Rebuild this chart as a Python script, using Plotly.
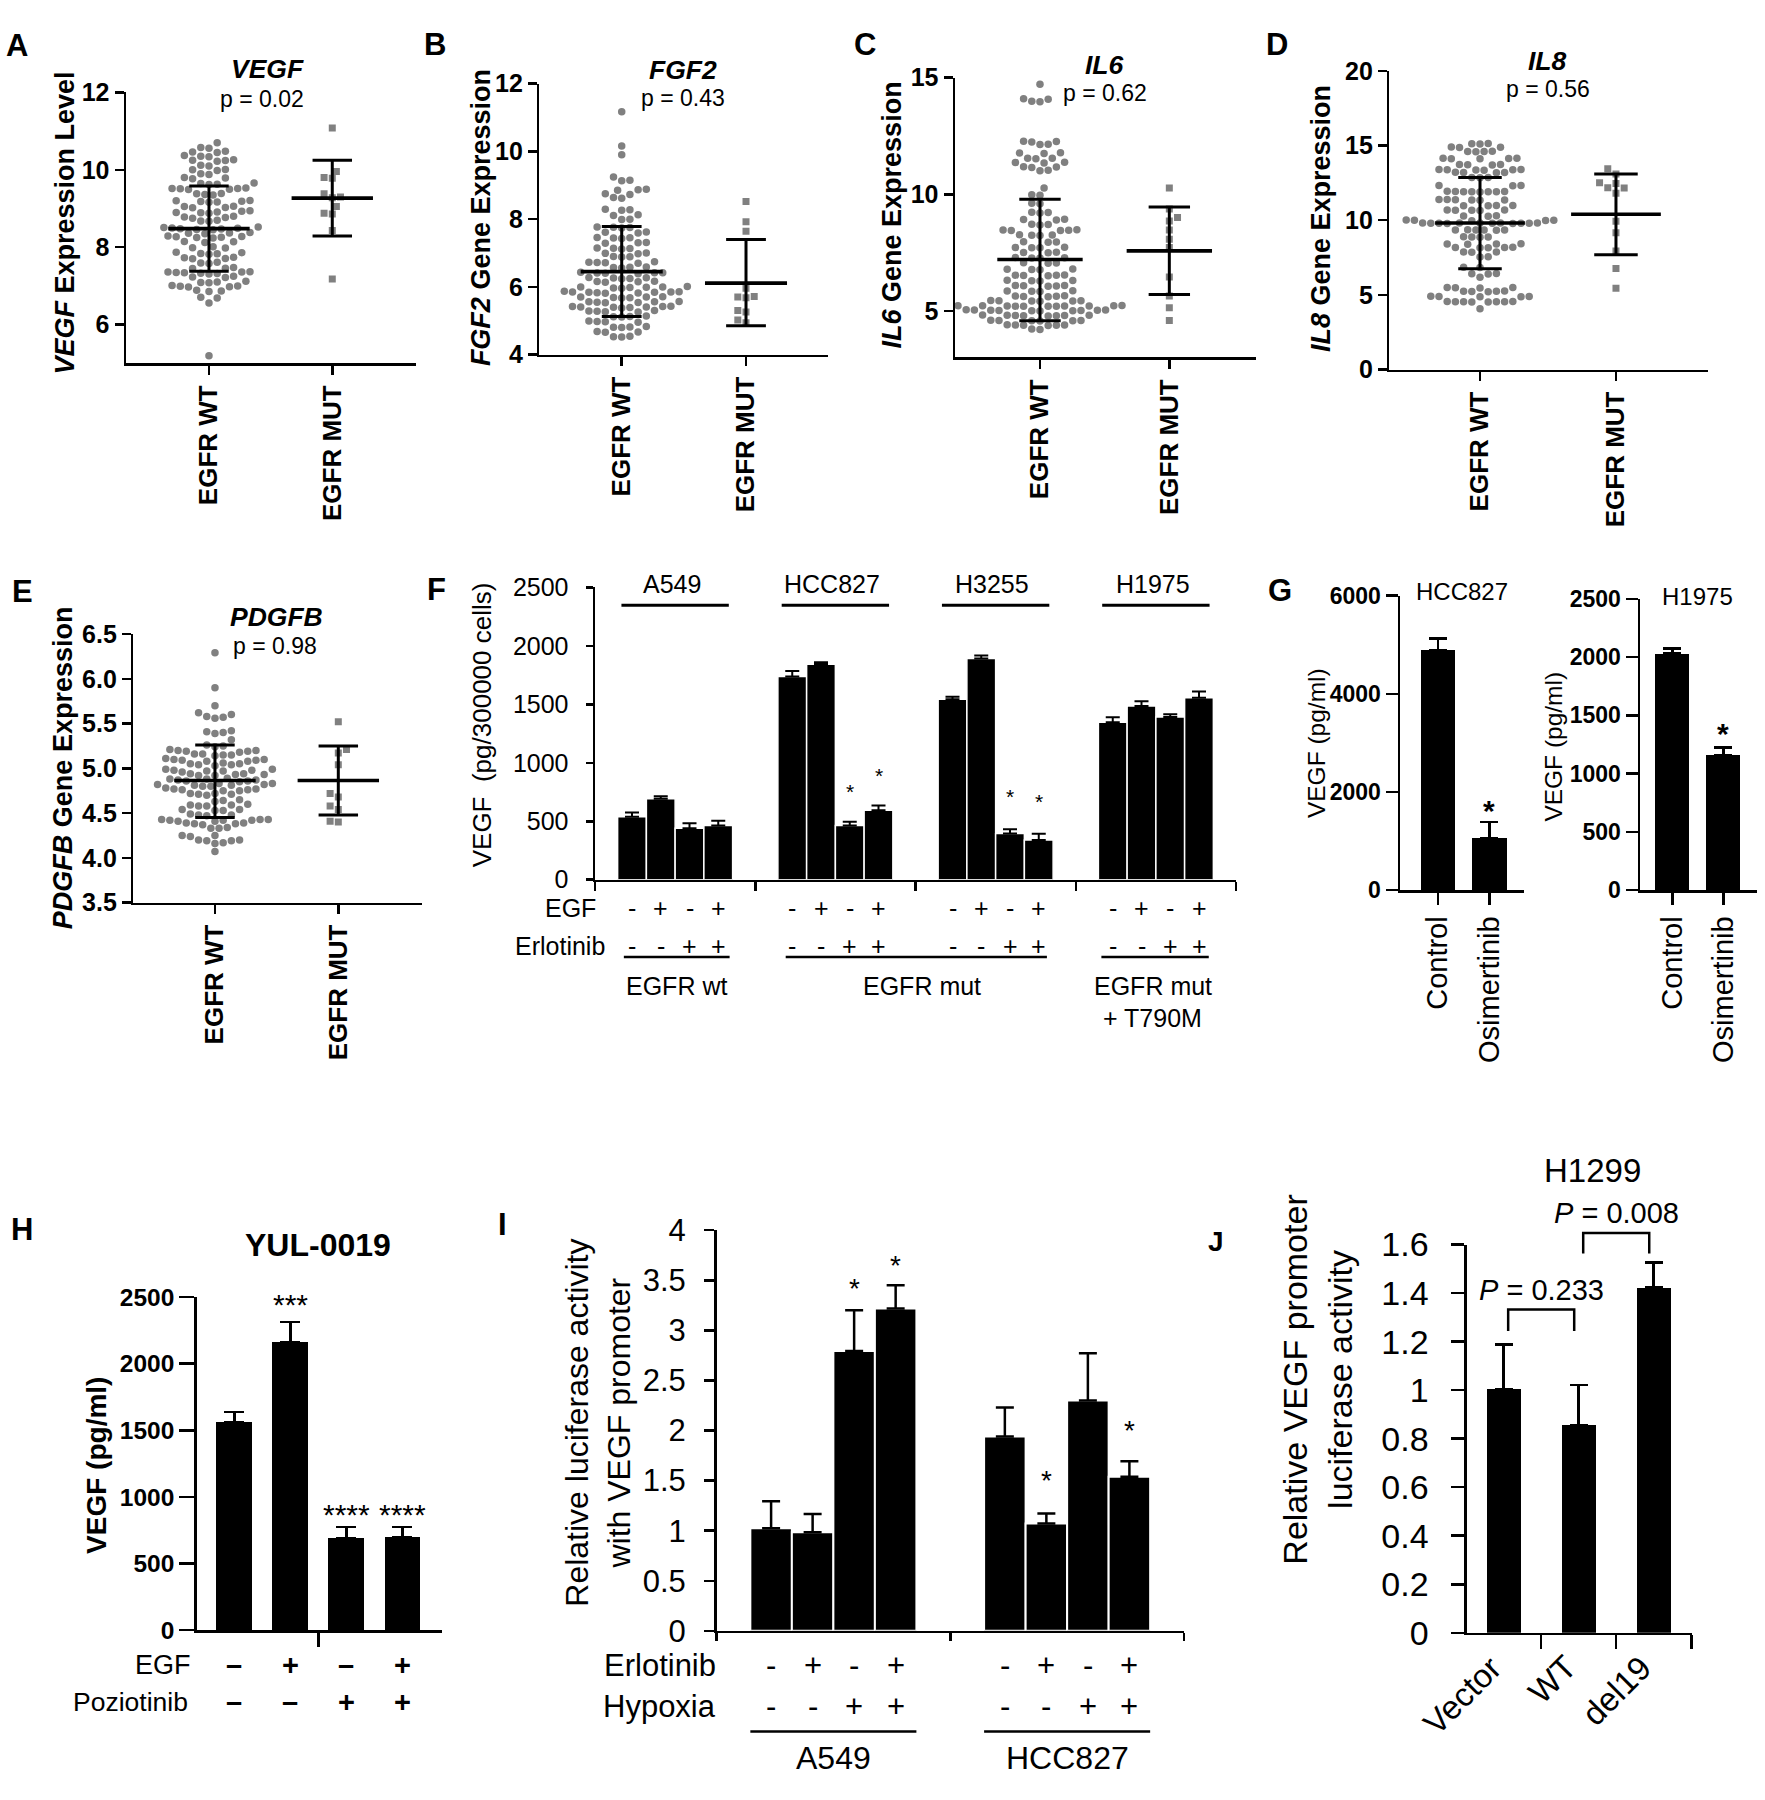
import plotly.graph_objects as go

W, H = 1765, 1800
FONT = "Liberation Sans, Arial, Helvetica, sans-serif"
GRAY = "#808080"
LW = 2.5

# ===================== DATA =====================
DOT_CATS = ["EGFR WT", "EGFR MUT"]

VEGF_WT = [10.70, 10.58, 10.56, 10.48, 10.46, 10.45, 10.37, 10.35, 10.34, 10.26, 10.25, 10.24, 10.22,
           10.12, 10.10, 10.01, 10.00, 9.98, 9.90, 9.88, 9.80, 9.79, 9.77, 9.66, 9.65, 9.63, 9.62,
           9.53, 9.52, 9.52, 9.51, 9.50, 9.49, 9.39, 9.38, 9.36, 9.35, 9.21, 9.20, 9.19, 9.18, 9.17, 9.16,
           9.06, 9.05, 9.03, 9.02, 8.94, 8.93, 8.91, 8.90, 8.89, 8.88, 8.80, 8.78, 8.77, 8.75, 8.70, 8.68, 8.67,
           8.52, 8.51, 8.50, 8.49, 8.48, 8.47, 8.46, 8.45, 8.38, 8.37, 8.36, 8.35, 8.29, 8.28, 8.27, 8.26, 8.25, 8.24,
           8.15, 8.14, 8.12, 8.01, 7.99, 7.98, 7.87, 7.86, 7.84, 7.83, 7.82, 7.74, 7.73, 7.71, 7.70,
           7.61, 7.59, 7.58, 7.48, 7.46, 7.45, 7.37, 7.36, 7.36, 7.35, 7.34, 7.33, 7.32, 7.31, 7.25, 7.23, 7.22,
           7.12, 7.10, 7.09, 7.08, 7.01, 7.00, 6.99, 6.98, 6.97, 6.89, 6.87, 6.86, 6.71, 6.69, 6.56, 5.20]
VEGF_MUT = [11.08, 9.96, 9.80, 9.78, 9.38, 9.30, 9.28, 9.05, 8.88, 8.86, 8.43, 7.18]
VEGF_MEAN = [8.48, 9.27]
VEGF_LO = [7.38, 8.29]
VEGF_HI = [9.58, 10.25]

FGF2_WT = [11.17, 10.16, 9.90, 9.24, 9.15, 9.13, 8.88, 8.87, 8.85, 8.75, 8.73, 8.64, 8.62,
           8.29, 8.28, 8.26, 8.13, 8.11, 8.00, 7.99, 7.77, 7.76, 7.75, 7.74, 7.62, 7.61, 7.59,
           7.46, 7.45, 7.44, 7.43, 7.31, 7.30, 7.29, 7.15, 7.14, 7.13, 7.12, 7.00, 6.99, 6.98, 6.90, 6.89, 6.88,
           6.74, 6.73, 6.72, 6.71, 6.70, 6.59, 6.58, 6.57, 6.56, 6.43, 6.42, 6.42, 6.41, 6.40, 6.39,
           6.28, 6.27, 6.26, 6.25, 6.24, 6.17, 6.16, 6.15, 6.14, 6.01, 6.00, 6.00, 5.99, 5.98, 5.97, 5.96,
           5.87, 5.86, 5.85, 5.85, 5.84, 5.84, 5.83, 5.82, 5.81,
           5.71, 5.70, 5.70, 5.69, 5.68, 5.67, 5.57, 5.56, 5.56, 5.55, 5.54, 5.53,
           5.43, 5.42, 5.42, 5.41, 5.41, 5.40, 5.39, 5.38, 5.30, 5.29, 5.28, 5.27, 5.26,
           5.14, 5.13, 5.12, 5.11, 4.99, 4.98, 4.97, 4.96, 4.83, 4.82, 4.81, 4.80, 4.68, 4.67, 4.66,
           4.54, 4.53, 4.52]
FGF2_MUT = [8.52, 7.92, 7.64, 5.96, 5.72, 5.70, 5.68, 5.30, 5.26, 5.02, 4.94]
FGF2_MEAN = [6.45, 6.11]
FGF2_LO = [5.13, 4.85]
FGF2_HI = [7.78, 7.40]

IL6_WT = [14.72, 14.10, 14.08, 13.99, 13.97, 12.27, 12.26, 12.24, 12.15, 12.13,
          11.78, 11.77, 11.75, 11.55, 11.54, 11.52, 11.37, 11.36, 11.34, 11.18, 11.17, 11.15, 11.03, 11.01,
          10.27, 9.98, 9.96, 9.61, 9.59, 9.23, 9.22, 9.20, 8.93, 8.92, 8.90, 8.71, 8.70, 8.68,
          8.48, 8.47, 8.46, 8.45, 8.44, 8.26, 8.25, 8.24, 8.23, 7.96, 7.95, 7.94, 7.73, 7.72, 7.71, 7.70,
          7.51, 7.50, 7.49, 7.29, 7.28, 7.27, 7.26, 7.06, 7.05, 7.04, 6.79, 6.78, 6.77, 6.76,
          6.54, 6.53, 6.52, 6.51, 6.50, 6.31, 6.30, 6.29, 6.28, 6.09, 6.08, 6.07, 6.06, 6.05,
          5.86, 5.85, 5.84, 5.83, 5.64, 5.63, 5.62, 5.61, 5.60, 5.44, 5.43, 5.43, 5.42, 5.42, 5.41,
          5.23, 5.23, 5.22, 5.22, 5.22, 5.21, 5.21, 5.21, 5.20, 5.20, 5.19, 5.19,
          5.04, 5.03, 5.03, 5.02, 5.02, 5.01, 5.01, 5.00, 5.00, 4.99,
          4.82, 4.81, 4.81, 4.80, 4.80, 4.79, 4.79, 4.78, 4.59, 4.58, 4.58, 4.57, 4.57, 4.56,
          4.40, 4.39, 4.39, 4.38, 4.38, 4.37, 4.22, 4.20]
IL6_MUT = [10.27, 9.37, 9.00, 8.85, 8.47, 8.07, 7.72, 6.45, 5.63, 5.13, 4.58]
IL6_MEAN = [7.20, 7.57]
IL6_LO = [4.57, 5.70]
IL6_HI = [9.79, 9.45]

IL8_WT = [15.13, 15.12, 15.10, 14.90, 14.89, 14.87, 14.61, 14.60, 14.59, 14.58,
          14.15, 14.14, 14.13, 14.12, 14.11, 13.73, 13.72, 13.71, 13.70,
          13.40, 13.39, 13.38, 13.37, 13.36, 13.35, 13.21, 13.20, 13.19, 13.18,
          12.86, 12.85, 12.84, 12.33, 12.32, 12.30,
          11.93, 11.92, 11.92, 11.91, 11.91, 11.90, 11.90, 11.89, 11.39, 11.38, 11.37, 11.36, 11.35, 11.34,
          10.99, 10.98, 10.97, 10.96, 10.69, 10.68, 10.67, 10.66, 10.65, 10.29, 10.28, 10.27,
          10.01, 10.00, 9.99, 9.98, 9.97,
          9.82, 9.82, 9.81, 9.81, 9.81, 9.80, 9.80, 9.80, 9.79, 9.79, 9.78, 9.78,
          9.36, 9.35, 9.35, 9.34, 9.34, 9.33, 8.89, 8.88, 8.87, 8.86, 8.42, 8.41, 8.40, 8.39,
          8.19, 8.18, 8.17, 8.16, 8.15, 7.88, 7.87, 7.86, 7.55, 7.53, 6.85, 6.83, 6.43, 6.42, 6.40, 6.19,
          5.50, 5.49, 5.48, 5.47, 5.26, 5.25, 5.24, 5.23, 5.22, 4.91, 4.90, 4.89, 4.88, 4.87,
          4.56, 4.56, 4.55, 4.55, 4.54, 4.54, 4.53, 4.53, 4.08]
IL8_MUT = [13.44, 13.09, 12.50, 12.46, 12.18, 12.15, 11.80, 9.93, 9.16, 7.94, 6.77, 5.44]
IL8_MEAN = [9.81, 10.40]
IL8_LO = [6.75, 7.68]
IL8_HI = [12.85, 13.09]

PDGFB_WT = [6.29, 5.90, 5.70, 5.62, 5.60, 5.58, 5.57, 5.56, 5.42, 5.41, 5.40, 5.39, 5.32,
            5.26, 5.25, 5.24, 5.21, 5.20, 5.20, 5.19, 5.19, 5.18, 5.16, 5.16, 5.15, 5.15, 5.14,
            5.11, 5.10, 5.10, 5.09, 5.09, 5.08, 5.08, 5.06, 5.05, 5.05, 5.04, 5.04, 5.03,
            4.99, 4.99, 4.98, 4.98, 4.97, 4.97, 4.96, 4.94, 4.94, 4.93, 4.93, 4.92, 4.92,
            4.89, 4.88, 4.88, 4.87, 4.87, 4.86, 4.86, 4.85, 4.83, 4.83, 4.82, 4.82, 4.81, 4.81, 4.80, 4.80,
            4.78, 4.77, 4.77, 4.76, 4.76, 4.75, 4.75, 4.72, 4.72, 4.71, 4.71, 4.70, 4.65, 4.64, 4.63,
            4.60, 4.59, 4.59, 4.58, 4.58, 4.54, 4.54, 4.53, 4.53, 4.49, 4.48, 4.48, 4.47,
            4.43, 4.43, 4.43, 4.42, 4.42, 4.42, 4.41, 4.41, 4.39, 4.39, 4.38, 4.38, 4.37,
            4.34, 4.33, 4.33, 4.25, 4.25, 4.24, 4.20, 4.20, 4.19, 4.19, 4.17, 4.16, 4.07]
PDGFB_MUT = [5.52, 5.21, 5.17, 5.04, 4.72, 4.68, 4.58, 4.54, 4.41, 4.40]
PDGFB_MEAN = [4.865, 4.865]
PDGFB_LO = [4.45, 4.48]
PDGFB_HI = [5.26, 5.25]

# Panel F
F_CELLS = ["A549", "HCC827", "H3255", "H1975"]
F_VALS = [[538, 692, 441, 463], [1738, 1842, 463, 594], [1543, 1892, 396, 340], [1348, 1487, 1392, 1557]]
F_ERR = [[575, 714, 483, 505], [1786, 1861, 497, 636], [1565, 1917, 432, 393], [1390, 1526, 1415, 1610]]
F_STAR = [[None, None, None, None], [None, None, 796, 935], [None, None, 757, 710], [None, None, None, None]]
F_EGF = ["-", "+", "-", "+"]
F_ERL = ["-", "-", "+", "+"]

# Panel G
G_CATS = ["Control", "Osimertinib"]
G_HCC_VALS = [4889, 1064]
G_HCC_ERR = [5122, 1384]
G_HCC_STAR = [None, 1760]
G_H1975_VALS = [2030, 1156]
G_H1975_ERR = [2072, 1226]
G_H1975_STAR = [None, 1400]

# Panel H
H_VALS = [1562, 2163, 691, 697]
H_ERR = [1638, 2312, 775, 775]
H_STAR_TXT = ["", "***", "****", "****"]
H_STAR_Y = [None, 2497, 921, 921]
H_EGF = ["\u2013", "+", "\u2013", "+"]
H_POZ = ["\u2013", "\u2013", "+", "+"]

# Panel I
I_CELLS = ["A549", "HCC827"]
I_VALS = [[1.024, 0.985, 2.794, 3.219], [1.940, 1.071, 2.300, 1.538]]
I_ERR = [[1.295, 1.167, 3.200, 3.451], [2.230, 1.171, 2.771, 1.693]]
I_STAR = [[None, None, 3.486, 3.710], [None, 1.565, None, 2.068]]
I_ERL = ["-", "+", "-", "+"]
I_HYP = ["-", "-", "+", "+"]

# Panel J
J_CATS = ["Vector", "WT", "del19"]
J_VALS = [1.005, 0.857, 1.423]
J_ERR = [1.188, 1.021, 1.527]
J_PTXT = ["<i>P</i> = 0.233", "<i>P</i> = 0.008"]
J_PPAIR = [(0, 1), (1, 2)]
J_PTOP = [1.332, 1.648]
J_PLEG = [1.244, 1.563]
J_PLABEL = [1.412, 1.731]

# ===================== HELPERS =====================
layout = dict(width=W, height=H, margin=dict(l=0, r=0, t=0, b=0),
              paper_bgcolor="white", plot_bgcolor="rgba(0,0,0,0)", showlegend=False,
              font=dict(family=FONT, color="black"))
annotations = []
shapes = []
traces = []
axis_count = [0]


def fx(px):
    return px / W


def fy(py):
    return 1 - py / H


def make_axes(box, xr, yr, xkw=None, ykw=None, hidden=False):
    axis_count[0] += 1
    n = "" if axis_count[0] == 1 else str(axis_count[0])
    x0, x1, yt, yb = box
    if hidden:
        base = dict(visible=False, showgrid=False, zeroline=False, fixedrange=True)
    else:
        base = dict(showline=True, linecolor="black", linewidth=LW, ticks="outside",
                    tickcolor="black", tickwidth=LW, showgrid=False, zeroline=False, fixedrange=True)
    xa = {**base, "domain": [fx(x0), fx(x1)], "range": list(xr), "anchor": "y" + n}
    ya = {**base, "domain": [fy(yb), fy(yt)], "range": list(yr), "anchor": "x" + n}
    xa.update(xkw or {})
    ya.update(ykw or {})
    layout["xaxis" + n] = xa
    layout["yaxis" + n] = ya
    return "x" + n, "y" + n, (x1 - x0) / (xr[1] - xr[0]), (yb - yt) / (yr[1] - yr[0])


def T(x, y, s, size, xref="paper", yref="paper", xa="center", ya="middle", angle=0, yshift=0, xshift=0):
    if xref == "paper":
        x = fx(x)
    if yref == "paper":
        y = fy(y)
    annotations.append(dict(x=x, y=y, xref=xref, yref=yref, text=s, showarrow=False,
                            font=dict(family=FONT, size=size, color="black"),
                            xanchor=xa, yanchor=ya, textangle=angle, yshift=yshift, xshift=xshift))


def hline(xref, xa, xb, ypx, width=2.5):
    shapes.append(dict(type="line", xref=xref, yref="paper", x0=xa, x1=xb, y0=fy(ypx), y1=fy(ypx),
                       line=dict(color="black", width=width)))


def star(xref, yref, x, y, size, bold=False, txt="*"):
    s = "<b>%s</b>" % txt if bold else txt
    T(x, y, s, size, xref=xref, yref=yref, yshift=-0.23 * size)


def swarm(values, center, ppx, ppy, d):
    placed = []
    xs = [0.0] * len(values)
    order = sorted(range(len(values)), key=lambda i: values[i])
    step = d * 0.5
    for cnt, i in enumerate(order):
        ypx = values[i] * ppy
        k = 0
        while True:
            if k == 0:
                cands = [0.0]
            else:
                cands = [k * step, -k * step] if cnt % 2 == 0 else [-k * step, k * step]
            hit = None
            for c in cands:
                ok = True
                for (px, py) in placed:
                    if abs(py - ypx) < d and (c - px) ** 2 + (ypx - py) ** 2 < d * d:
                        ok = False
                        break
                if ok:
                    hit = c
                    break
            if hit is not None:
                placed.append((hit, ypx))
                xs[i] = center + hit / ppx
                break
            k += 1
    return xs


def err_bar(vals, tops, half, thick=2.5):
    return dict(type="data", symmetric=False, array=[t - v for t, v in zip(tops, vals)],
                arrayminus=[0] * len(vals), color="black", thickness=thick, width=half)


# ===================== DOT PLOTS (A-E) =====================
dot_panels = [
    dict(gene="VEGF", suffix=" Expression Level", p="p = 0.02", wt=VEGF_WT, mut=VEGF_MUT,
         mean=VEGF_MEAN, lo=VEGF_LO, hi=VEGF_HI, box=(126, 416, 75, 351.8), xr=(-0.673, 1.679), yr=(5, 12),
         tickvals=[6, 8, 10, 12], fmt="", title_xy=(267, 51.5), p_xy=(262, 81.5), ytitle_xy=(65, 209),
         letter="A", letter_xy=(17, 27)),
    dict(gene="FGF2", suffix=" Gene Expression", p="p = 0.43", wt=FGF2_WT, mut=FGF2_MUT,
         mean=FGF2_MEAN, lo=FGF2_LO, hi=FGF2_HI, box=(539.3, 828.3, 66, 342.9), xr=(-0.663, 1.662), yr=(4, 12),
         tickvals=[4, 6, 8, 10, 12], fmt="", title_xy=(683, 52.5), p_xy=(683, 80.5), ytitle_xy=(481.7, 202.7),
         letter="B", letter_xy=(435, 26)),
    dict(gene="IL6", suffix=" Gene Expression", p="p = 0.62", wt=IL6_WT, mut=IL6_MUT,
         mean=IL6_MEAN, lo=IL6_LO, hi=IL6_HI, box=(955, 1256, 60, 345.7), xr=(-0.657, 1.67), yr=(3, 15),
         tickvals=[5, 10, 15], fmt="", title_xy=(1104, 47.5), p_xy=(1105, 75.5), ytitle_xy=(891.7, 200),
         letter="C", letter_xy=(865, 26)),
    dict(gene="IL8", suffix=" Gene Expression", p="p = 0.56", wt=IL8_WT, mut=IL8_MUT,
         mean=IL8_MEAN, lo=IL8_LO, hi=IL8_HI, box=(1389.3, 1708.3, 52.9, 358.2), xr=(-0.667, 1.679), yr=(0, 20),
         tickvals=[0, 5, 10, 15, 20], fmt="", title_xy=(1547.5, 42.5), p_xy=(1547.5, 71),
         ytitle_xy=(1321.7, 203.6), letter="D", letter_xy=(1277, 26)),
    dict(gene="PDGFB", suffix=" Gene Expression", p="p = 0.98", wt=PDGFB_WT, mut=PDGFB_MUT,
         mean=PDGFB_MEAN, lo=PDGFB_LO, hi=PDGFB_HI, box=(133.3, 421.7, 628.3, 902.7), xr=(-0.662, 1.676),
         yr=(3.5, 6.5), tickvals=[3.5, 4.0, 4.5, 5.0, 5.5, 6.0, 6.5], fmt=".1f", title_xy=(276.7, 610.5),
         p_xy=(275, 640.5), ytitle_xy=(63.3, 765), letter="E", letter_xy=(22, 585)),
]

for P in dot_panels:
    xk = dict(tickvals=[0, 1], ticktext=DOT_CATS, tickangle=-90, ticklen=9,
              tickfont=dict(family=FONT, size=26, color="black", weight="bold"))
    yk = dict(tickvals=P["tickvals"], ticklen=9, tickformat=P["fmt"],
              tickfont=dict(family=FONT, size=25, color="black", weight="bold"))
    xr_, yr_, ppx, ppy = make_axes(P["box"], P["xr"], P["yr"], xk, yk)
    d = 8.2
    xs_wt = swarm(P["wt"], 0, ppx, ppy, d)
    xs_mut = swarm(P["mut"], 1, ppx, ppy, d)
    traces.append(go.Scatter(x=xs_wt, y=P["wt"], mode="markers", xaxis=xr_, yaxis=yr_,
                             marker=dict(color=GRAY, size=7.5, symbol="circle", line=dict(width=0))))
    traces.append(go.Scatter(x=xs_mut, y=P["mut"], mode="markers", xaxis=xr_, yaxis=yr_,
                             marker=dict(color=GRAY, size=7, symbol="square", line=dict(width=0))))
    for g in range(2):
        m, lo, hi = P["mean"][g], P["lo"][g], P["hi"][g]
        traces.append(go.Scatter(x=[g - 0.33, g + 0.33], y=[m, m], mode="lines", xaxis=xr_, yaxis=yr_,
                                 line=dict(color="black", width=3.6), cliponaxis=False))
        traces.append(go.Scatter(x=[g, g, None, g - 0.16, g + 0.16, None, g - 0.16, g + 0.16],
                                 y=[lo, hi, None, lo, lo, None, hi, hi], mode="lines",
                                 xaxis=xr_, yaxis=yr_, line=dict(color="black", width=3), cliponaxis=False))
    T(*P["title_xy"], "<b><i>%s</i></b>" % P["gene"], 26.5)
    T(*P["p_xy"], P["p"], 23)
    T(*P["ytitle_xy"], "<b><i>%s</i>%s</b>" % (P["gene"], P["suffix"]), 27, angle=-90)
    T(*P["letter_xy"], "<b>%s</b>" % P["letter"], 31)

# ===================== PANEL F =====================
FW = 0.1794
xkF = dict(tickvals=[0, 1, 2, 3, 4], ticklen=9, showticklabels=False)
ykF = dict(tickvals=[0, 500, 1000, 1500, 2000, 2500], ticklen=7, ticklabelstandoff=12,
           tickfont=dict(family=FONT, size=25, color="black"))
xF, yF, _, _ = make_axes((595, 1236, 580.7, 879.3), (0, 4), (0, 2500), xkF, ykF)
fx_pos, fy_vals, fy_err = [], [], []
for g in range(4):
    for j in range(4):
        fx_pos.append(g + 0.5 + (j - 1.5) * FW)
        fy_vals.append(F_VALS[g][j])
        fy_err.append(F_ERR[g][j])
traces.append(go.Bar(x=fx_pos, y=fy_vals, width=FW, xaxis=xF, yaxis=yF,
                     marker=dict(color="black", line=dict(color="white", width=1.5)),
                     error_y=err_bar(fy_vals, fy_err, 7, 2)))
for g in range(4):
    T(g + 0.48, 576.7, F_CELLS[g], 25, xref=xF)
    shapes.append(dict(type="line", xref=xF, yref="paper", x0=g + 0.5 - 0.335, x1=g + 0.5 + 0.335,
                       y0=fy(599), y1=fy(599), line=dict(color="black", width=3)))
    for j in range(4):
        xb = g + 0.5 + (j - 1.5) * FW
        T(xb, 908.3, F_EGF[j], 25, xref=xF)
        T(xb, 946.7, F_ERL[j], 25, xref=xF)
        if F_STAR[g][j] is not None:
            star(xF, yF, xb, F_STAR[g][j], 21)
T(598.3, 908.3, "EGF", 25, xa="right")
T(606.7, 946.7, "Erlotinib", 25, xa="right")
hline(xF, 0.18, 0.84, 958.3, 2.5)
hline(xF, 1.19, 2.82, 958.3, 2.5)
hline(xF, 3.16, 3.83, 958.3, 2.5)
T(0.51, 988.3, "EGFR wt", 25, xref=xF)
T(2.04, 988.3, "EGFR mut", 25, xref=xF)
T(3.48, 988.3, "EGFR mut", 25, xref=xF)
T(3.48, 1020.5, "+ T790M", 25, xref=xF)
T(481.7, 720.8, "VEGF\u00a0 (pg/300000 cells)", 26, angle=-90)
T(436, 583, "<b>F</b>", 31)

# ===================== PANEL G =====================
G_panels = [
    dict(box=(1400, 1524, 589, 890), xr=(-0.74, 1.676), yr=(0, 6000), tv=[0, 2000, 4000, 6000],
         vals=G_HCC_VALS, err=G_HCC_ERR, star=G_HCC_STAR, title="HCC827", title_xy=(1462, 585),
         ytitle_xy=(1316.7, 740)),
    dict(box=(1640, 1756.7, 592.3, 890), xr=(-0.634, 1.655), yr=(0, 2500), tv=[0, 500, 1000, 1500, 2000, 2500],
         vals=G_H1975_VALS, err=G_H1975_ERR, star=G_H1975_STAR, title="H1975", title_xy=(1697.3, 590),
         ytitle_xy=(1553.3, 743)),
]
for P in G_panels:
    xk = dict(tickvals=[0, 1], ticktext=G_CATS, tickangle=-90, ticklen=12,
              tickfont=dict(family=FONT, size=29, color="black"))
    yk = dict(tickvals=P["tv"], ticklen=12, tickfont=dict(family=FONT, size=23, color="black", weight="bold"))
    xg, yg, _, _ = make_axes(P["box"], P["xr"], P["yr"], xk, yk)
    traces.append(go.Bar(x=[0, 1], y=P["vals"], width=0.67, xaxis=xg, yaxis=yg,
                         marker=dict(color="black", line=dict(width=0)),
                         error_y=err_bar(P["vals"], P["err"], 9, 2.5)))
    for i, s in enumerate(P["star"]):
        if s is not None:
            star(xg, yg, i, s, 30, bold=True)
    T(*P["title_xy"], P["title"], 24)
    T(*P["ytitle_xy"], "VEGF (pg/ml)", 24.5, angle=-90)
T(1279.5, 584, "<b>G</b>", 31)

# ===================== PANEL H =====================
xkH = dict(tickvals=[1.5], ticklen=14, showticklabels=False)
ykH = dict(tickvals=[0, 500, 1000, 1500, 2000, 2500], ticklen=15,
           tickfont=dict(family=FONT, size=24.5, color="black", weight="bold"))
xH, yH, _, _ = make_axes((196.7, 441.7, 1305.5, 1646), (-0.67, 3.70), (0, 2500), xkH, ykH)
traces.append(go.Bar(x=[0, 1, 2, 3], y=H_VALS, width=0.64, xaxis=xH, yaxis=yH,
                     marker=dict(color="black", line=dict(width=0)),
                     error_y=err_bar(H_VALS, H_ERR, 10, 2.5)))
for i in range(4):
    if H_STAR_Y[i] is not None:
        star(xH, yH, i, H_STAR_Y[i], 30, txt=H_STAR_TXT[i])
    T(i, 1681.3, "<b>%s</b>" % H_EGF[i], 29, xref=xH)
    T(i, 1719.6, "<b>%s</b>" % H_POZ[i], 29, xref=xH)
T(193.3, 1681.3, "EGF", 27, xa="right")
T(190, 1719.6, "Poziotinib", 26.5, xa="right")
T(318.3, 1252.7, "<b>YUL-0019</b>", 32)
T(96.7, 1477.4, "<b>VEGF (pg/ml)</b>", 28, angle=-90)
T(22, 1237, "<b>H</b>", 31)

# ===================== PANEL I =====================
IW = 0.1776
xkI = dict(tickvals=[0, 1, 2], ticklen=8, showticklabels=False)
ykI = dict(tickvals=[0, 0.5, 1, 1.5, 2, 2.5, 3, 3.5, 4], ticklen=10, ticklabelstandoff=12,
           tickfont=dict(family=FONT, size=31, color="black"))
xI, yI, _, _ = make_axes((716.5, 1184, 1237.3, 1646.6), (0, 2), (0, 4), xkI, ykI)
ix, iv, ie = [], [], []
for g in range(2):
    for j in range(4):
        ix.append(g + 0.5 + (j - 1.5) * IW)
        iv.append(I_VALS[g][j])
        ie.append(I_ERR[g][j])
traces.append(go.Bar(x=ix, y=iv, width=IW, xaxis=xI, yaxis=yI,
                     marker=dict(color="black", line=dict(color="white", width=2)),
                     error_y=err_bar(iv, ie, 9, 2.5)))
for g in range(2):
    for j in range(4):
        xb = g + 0.5 + (j - 1.5) * IW
        T(xb, 1682, I_ERL[j], 31, xref=xI)
        T(xb, 1723.7, I_HYP[j], 31, xref=xI)
        if I_STAR[g][j] is not None:
            star(xI, yI, xb, I_STAR[g][j], 28)
    hline(xI, g + 0.5 - 2 * IW, g + 0.5 + 2 * IW, 1749.4, 2.5)
    T(g + 0.5, 1777, I_CELLS[g], 32, xref=xI)
T(717.7, 1682, "Erlotinib", 31, xa="right")
T(717.7, 1723.7, "Hypoxia", 31, xa="right")
T(598, 1434, "Relative luciferase activity<br>with VEGF promoter", 32, angle=-90)
T(502, 1231, "<b>I</b>", 31)

# ===================== PANEL J =====================
J_BOX = (1466.9, 1692, 1252, 1648.6)
J_XR = (-0.49, 2.51)
J_YR = (0, 1.6)
xkJ = dict(tickvals=[-0.5, 0.5, 1.5, 2.5], ticklen=14, showticklabels=False)
ykJ = dict(tickvals=[0, 0.2, 0.4, 0.6, 0.8, 1, 1.2, 1.4, 1.6], ticklen=13, ticklabelstandoff=16,
           tickfont=dict(family=FONT, size=34, color="black"))
xJ, yJ, _, ppyJ = make_axes(J_BOX, J_XR, J_YR, xkJ, ykJ)
traces.append(go.Bar(x=[0, 1, 2], y=J_VALS, width=0.45, xaxis=xJ, yaxis=yJ,
                     marker=dict(color="black", line=dict(width=0)),
                     error_y=err_bar(J_VALS, J_ERR, 9, 2.5)))
# invisible overlay axes with a taller range so the brackets above 1.6 are not clipped
J_YR2 = (0, 1.85)
top2 = J_BOX[3] - J_YR2[1] * ppyJ
xJ2, yJ2, _, _ = make_axes((J_BOX[0], J_BOX[1], top2, J_BOX[3]), J_XR, J_YR2, hidden=True)
for k in range(2):
    a, b = J_PPAIR[k]
    traces.append(go.Scatter(x=[a + 0.06, a + 0.06, b - 0.06, b - 0.06],
                             y=[J_PLEG[k], J_PTOP[k], J_PTOP[k], J_PLEG[k]], mode="lines",
                             xaxis=xJ2, yaxis=yJ2, line=dict(color="black", width=2.5)))
    T((a + b) / 2, J_PLABEL[k], J_PTXT[k], 29, xref=xJ2, yref=yJ2)
for i, c in enumerate(J_CATS):
    T(i + 0.1, 1662, c, 33, xref=xJ, xa="right", ya="top", angle=-45)
T(1592, 1176, "H1299", 33)
T(1317.5, 1390.5, "Relative VEGF promoter<br>luciferase activity", 34, angle=-90)
T(1216, 1249, "<b>J</b>", 28)

layout["annotations"] = annotations
layout["shapes"] = shapes
layout["bargap"] = 0
fig = go.Figure(data=traces, layout=layout)
fig.write_html("out.html", config={"displayModeBar": False, "staticPlot": True},
               post_script="document.body.style.margin='0';")
